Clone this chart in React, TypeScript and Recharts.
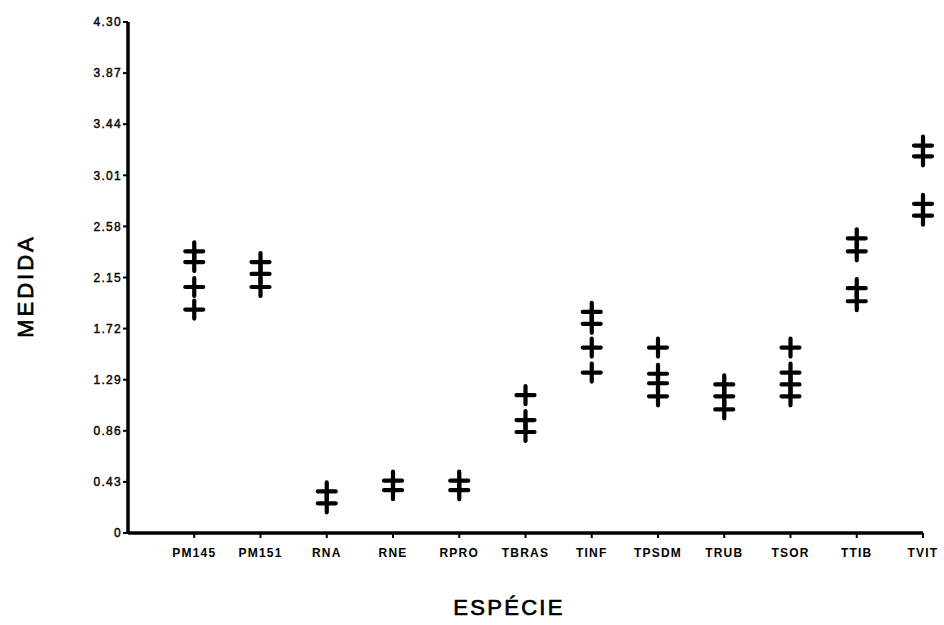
import React from 'react';
import { ScatterChart, Scatter, XAxis, YAxis, Label } from 'recharts';

const species = ['PM145', 'PM151', 'RNA', 'RNE', 'RPRO', 'TBRAS', 'TINF', 'TPSDM', 'TRUB', 'TSOR', 'TTIB', 'TVIT'];

const pm145 = [2.37, 2.28, 2.07, 1.88];
const pm151 = [2.28, 2.18, 2.07];
const rna = [0.35, 0.25];
const rne = [0.44, 0.36];
const rpro = [0.44, 0.36];
const tbras = [1.16, 0.95, 0.85];
const tinf = [1.86, 1.76, 1.56, 1.35];
const tpsdm = [1.56, 1.34, 1.26, 1.15];
const trub = [1.25, 1.15, 1.04];
const tsor = [1.56, 1.35, 1.25, 1.15];
const ttib = [2.48, 2.37, 2.06, 1.95];
const tvit = [3.26, 3.17, 2.77, 2.67];

const seriesValues = [pm145, pm151, rna, rne, rpro, tbras, tinf, tpsdm, trub, tsor, ttib, tvit];

const yTicks = [0, 0.43, 0.86, 1.29, 1.72, 2.15, 2.58, 3.01, 3.44, 3.87, 4.3];
const xTicks = species.map((_, i) => i + 1);

const data = species.flatMap((s, i) => seriesValues[i].map((v) => ({ x: i + 1, y: v, name: s })));

const Plus = (props: any) => {
  const { cx, cy } = props;
  if (cx == null || cy == null) return null;
  return (
    <path
      d={`M${cx - 9},${cy}H${cx + 9}M${cx},${cy - 9}V${cy + 9}`}
      stroke="#000"
      strokeWidth={4.2}
      strokeLinecap="round"
      fill="none"
    />
  );
};

const font = 'Liberation Sans, Arial, sans-serif';

export default function App() {
  return (
    <div style={{ position: 'absolute', left: 0, top: 0, width: 944, height: 625, background: '#fff' }}>
      <ScatterChart width={944} height={625} margin={{ top: 22, right: 21, bottom: 62, left: 68 }}>
        <XAxis
          type="number"
          dataKey="x"
          domain={[0, 12]}
          ticks={xTicks}
          tickFormatter={(v: number) => species[v - 1] ?? ''}
          interval={0}
          height={30}
          axisLine={{ stroke: '#000', strokeWidth: 3.5 }}
          tickLine={{ stroke: '#000', strokeWidth: 2 }}
          tickSize={5}
          tickMargin={10}
          tick={{ fill: '#000', fontSize: 12, fontWeight: 'bold', fontFamily: font, letterSpacing: 1.2 }}
        >
          <Label
            content={() => (
              <text x={509} y={615} textAnchor="middle" fontFamily={font} fontSize={22} letterSpacing={2.3} fill="#000" stroke="#000" strokeWidth={0.7}>
                ESPÉCIE
              </text>
            )}
          />
        </XAxis>
        <YAxis
          type="number"
          dataKey="y"
          domain={[0, 4.3]}
          ticks={yTicks}
          interval={0}
          width={60}
          tickFormatter={(v: number) => (v === 0 ? '0' : v.toFixed(2))}
          axisLine={{ stroke: '#000', strokeWidth: 3.5 }}
          tickLine={{ stroke: '#000', strokeWidth: 2 }}
          tickSize={5}
          tickMargin={1}
          tick={{ fill: '#000', fontSize: 12, fontFamily: font, letterSpacing: 1.3, stroke: '#000', strokeWidth: 0.4 }}
        >
          <Label
            content={() => (
              <text
                x={0}
                y={0}
                transform="translate(33,286) rotate(-90)"
                textAnchor="middle"
                fontFamily={font}
                fontSize={22}
                letterSpacing={3}
                fill="#000"
                stroke="#000"
                strokeWidth={0.7}
              >
                MEDIDA
              </text>
            )}
          />
        </YAxis>
        <Scatter data={data} shape={Plus} isAnimationActive={false} />
      </ScatterChart>
    </div>
  );
}
